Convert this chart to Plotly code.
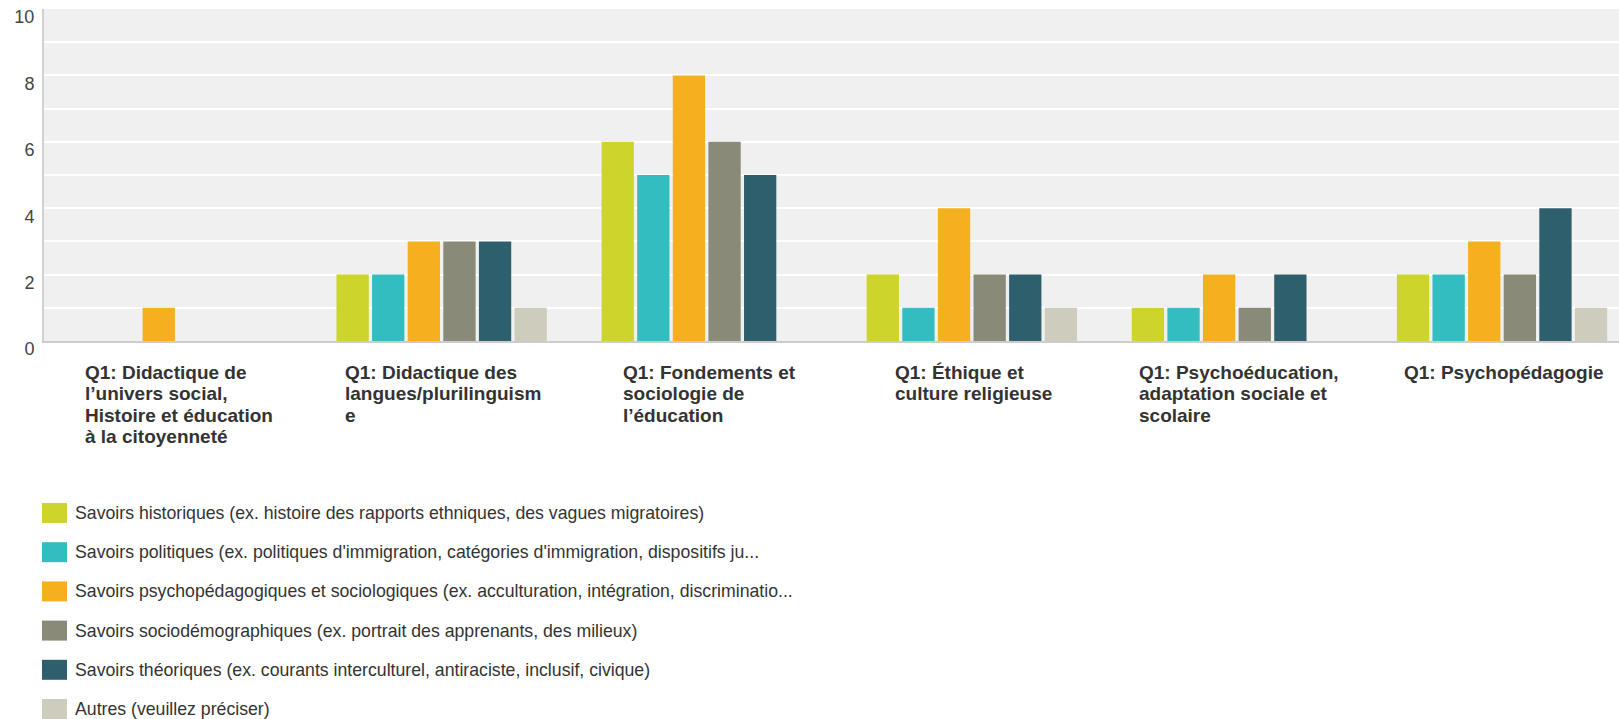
import plotly.graph_objects as go

categories = [
    "Q1: Didactique de l’univers social, Histoire et éducation à la citoyenneté",
    "Q1: Didactique des langues/plurilinguisme",
    "Q1: Fondements et sociologie de l’éducation",
    "Q1: Éthique et culture religieuse",
    "Q1: Psychoéducation, adaptation sociale et scolaire",
    "Q1: Psychopédagogie",
]
tick_labels = [
    "Q1: Didactique de<br>l’univers social,<br>Histoire et éducation<br>à la citoyenneté",
    "Q1: Didactique des<br>langues/plurilinguism<br>e",
    "Q1: Fondements et<br>sociologie de<br>l’éducation",
    "Q1: Éthique et<br>culture religieuse",
    "Q1: Psychoéducation,<br>adaptation sociale et<br>scolaire",
    "Q1: Psychopédagogie",
]
series_names = [
    "Savoirs historiques (ex. histoire des rapports ethniques, des vagues migratoires)",
    "Savoirs politiques (ex. politiques d'immigration, catégories d'immigration, dispositifs ju...",
    "Savoirs psychopédagogiques et sociologiques (ex. acculturation, intégration, discriminatio...",
    "Savoirs sociodémographiques (ex. portrait des apprenants, des milieux)",
    "Savoirs théoriques (ex. courants interculturel, antiraciste, inclusif, civique)",
    "Autres (veuillez préciser)",
]
historiques = [0, 2, 6, 2, 1, 2]
politiques = [0, 2, 5, 1, 1, 2]
psychopedagogiques = [1, 3, 8, 4, 2, 3]
sociodemographiques = [0, 3, 6, 2, 1, 2]
theoriques = [0, 3, 5, 2, 2, 4]
autres = [0, 1, 0, 1, 0, 1]
series_values = [historiques, politiques, psychopedagogiques, sociodemographiques, theoriques, autres]
colors = ["#CDD42B", "#33BDC1", "#F6AF1F", "#8A8A78", "#2E5F6D", "#CECDBD"]

W, H = 1619, 719
ML, MT, MB = 44, 9, 378
plot_h = H - MT - MB
band_px = 265.1
x_right = -0.5 + (W - ML) / band_px

fig = go.Figure()
for name, vals, col in zip(series_names, series_values, colors):
    fig.add_trace(go.Bar(x=categories, y=vals, name=name,
                         marker=dict(color=col, line=dict(width=0)),
                         showlegend=False))

def py(pixel_y):
    return (H - MB - pixel_y) / plot_h

# approximate advance widths of a bold Arial-metric font (per 1000 em)
BOLD_W = {" ": 278, ",": 278, ".": 278, "/": 278, ":": 333, "1": 556, "’": 278, "'": 238,
          "A": 722, "D": 722, "E": 667, "É": 667, "F": 611, "H": 722, "P": 667, "Q": 778, "S": 667}
BOLD_W.update({c: w for c, w in zip("abcdefghijklmnopqrstuvwxyz",
               [556, 611, 556, 611, 556, 333, 611, 611, 278, 278, 556, 278, 889,
                611, 611, 611, 611, 389, 556, 333, 611, 556, 778, 556, 556, 500])})
BOLD_W.update({"é": 556, "à": 556})

def text_width(s, size):
    return sum(BOLD_W.get(c, 600) for c in s) * size / 1000.0

font_family = "Liberation Sans, Arial, sans-serif"
label_size = 19
annotations = []
shapes = []
# category labels: block centred on the category, lines left aligned
for cat, lab in zip(categories, tick_labels):
    lines = lab.split("<br>")
    block_w = max(text_width(l, label_size) for l in lines)
    for k, line in enumerate(lines):
        annotations.append(dict(
            x=cat, xref="x", y=py(372 + k * 21.6), yref="paper",
            text="<b>" + line + "</b>", showarrow=False,
            xanchor="left", yanchor="middle", xshift=-block_w / 2,
            font=dict(family=font_family, size=label_size, color="#333333"),
        ))

# custom legend
for i, (name, col) in enumerate(zip(series_names, colors)):
    cy = 513 + i * 39.2
    shapes.append(dict(type="rect", xref="paper", yref="paper",
                       x0=(42 - ML) / (W - ML), x1=(67 - ML) / (W - ML),
                       y0=py(cy + 10), y1=py(cy - 10),
                       fillcolor=col, line=dict(width=0)))
    annotations.append(dict(
        x=(73 - ML) / (W - ML), xref="paper", y=py(cy), yref="paper",
        text=name, showarrow=False, xanchor="left", yanchor="middle",
        font=dict(family=font_family, size=17.7, color="#333333"),
    ))

fig.update_layout(
    width=W, height=H,
    margin=dict(l=ML, r=0, t=MT, b=MB, pad=0),
    paper_bgcolor="white", plot_bgcolor="#F0F0F0",
    barmode="group", bargap=0.194, bargroupgap=0.093,
    font=dict(family=font_family, size=18, color="#444444"),
    xaxis=dict(range=[-0.5, x_right], showticklabels=False, showgrid=False,
               zeroline=False, showline=True, linecolor="#CCCCCC", linewidth=2,
               ticks="", fixedrange=True),
    yaxis=dict(range=[0, 10], dtick=2, tick0=0, showgrid=True, gridcolor="white",
               gridwidth=1.5, zeroline=False, showline=True, linecolor="#D0D0D0",
               linewidth=2, ticks="", ticklabelshift=8, ticklabelstandoff=4,
               tickfont=dict(family=font_family, size=18, color="#444444"),
               minor=dict(dtick=1, showgrid=True, gridcolor="white", gridwidth=1.5)),
    annotations=annotations, shapes=shapes,
    showlegend=False,
)

fig.write_html("out.html")
